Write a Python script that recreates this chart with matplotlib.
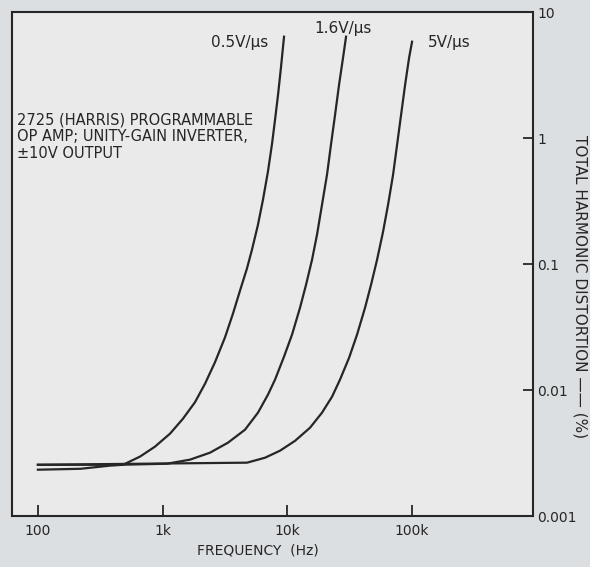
# THD vs frequency for the 2725 programmable op amp
import matplotlib
matplotlib.use('Agg')
from matplotlib import pyplot as plt
from matplotlib.ticker import FixedLocator, NullLocator

# curve data (frequency in Hz, THD in %)
freq_05 = [100, 220, 378, 481, 658, 867, 1145, 1455, 1816, 2184, 2626, 3162, 3664, 4169,
           4745, 5200, 5808, 6370, 6982, 7530, 7960, 8414, 8890, 9394]
thd_05 = [0.00233, 0.00237, 0.00251, 0.00255, 0.00296, 0.00355, 0.00450, 0.00592, 0.00800,
          0.0112, 0.0166, 0.0262, 0.0405, 0.0615, 0.0925, 0.130, 0.205, 0.324, 0.541, 0.902,
          1.40, 2.21, 3.68, 6.37]

freq_16 = [100, 455, 1083, 1656, 2395, 3340, 4571, 5808, 6982, 7960, 9394, 10890, 12620,
           14100, 15750, 17270, 18940, 20770, 22340, 24100, 25940, 27920, 29510]
thd_16 = [0.00255, 0.00255, 0.00260, 0.00280, 0.00318, 0.00382, 0.00484, 0.00661, 0.00918,
          0.0121, 0.0184, 0.0275, 0.0450, 0.0684, 0.108, 0.171, 0.296, 0.512, 0.885, 1.53,
          2.65, 4.34, 6.37]

freq_5 = [100, 4745, 6610, 8730, 11510, 15180, 18940, 22790, 26410, 31200, 36150, 41900,
          46800, 52300, 58400, 64100, 70300, 75700, 81500, 87800, 94500, 99800]
thd_5 = [0.00255, 0.00265, 0.00290, 0.00330, 0.00395, 0.00502, 0.00661, 0.00885, 0.0121,
         0.0180, 0.0275, 0.0450, 0.0684, 0.108, 0.180, 0.296, 0.512, 0.885, 1.53, 2.65,
         4.34, 5.81]

x_ticks = [100, 1000, 10000, 100000]
x_labels = ['100', '1k', '10k', '100k']
y_ticks = [0.001, 0.01, 0.1, 1, 10]
y_labels = ['0.001', '0.01', '0.1', '1', '10']

ink = '#262626'

fig = plt.figure(figsize=(5.9, 5.67), dpi=100, facecolor='#dcdfe2')
ax = fig.add_axes([12 / 590, 1 - 516 / 567, (533 - 12) / 590, (516 - 12) / 567])
ax.set_facecolor('#eaeaea')

for f, t in [(freq_05, thd_05), (freq_16, thd_16), (freq_5, thd_5)]:
    ax.plot(f, t, color=ink, lw=1.6)

ax.set_xscale('log')
ax.set_yscale('log')
ax.set_xlim(62, 9.3e5)
ax.set_ylim(0.001, 10)

ax.xaxis.set_major_locator(FixedLocator(x_ticks))
ax.set_xticklabels(x_labels)
ax.yaxis.set_major_locator(FixedLocator(y_ticks))
ax.set_yticklabels(y_labels)
ax.xaxis.set_minor_locator(NullLocator())
ax.yaxis.set_minor_locator(NullLocator())
ax.yaxis.tick_right()
ax.tick_params(axis='x', direction='in', length=8, width=1.3, color=ink, labelsize=10,
               labelcolor=ink, pad=6)
ax.tick_params(axis='y', direction='in', length=7, width=1.3, color=ink, labelsize=10,
               labelcolor=ink, pad=3)
for s in ax.spines.values():
    s.set_color(ink)
    s.set_linewidth(1.5)

# curve labels
ax.text(6980, 5.7, '0.5V/μs', ha='right', va='center', fontsize=11, color=ink)
ax.text(27900, 7.4, '1.6V/μs', ha='center', va='center', fontsize=11, color=ink)
ax.text(134000, 5.7, '5V/μs', ha='left', va='center', fontsize=11, color=ink)

ax.text(68, 1.6, '2725 (HARRIS) PROGRAMMABLE\nOP AMP; UNITY-GAIN INVERTER,\n±10V OUTPUT',
        ha='left', va='top', fontsize=10.5, color=ink, linespacing=1.15)

fig.text(258 / 590, 1 - 550 / 567, 'FREQUENCY  (Hz)', ha='center', va='center',
         fontsize=10, color=ink)
fig.text(580 / 590, 1 - 287 / 567, 'TOTAL HARMONIC DISTORTION —— (%)', ha='center',
         va='center', rotation=270, fontsize=11, color=ink)

fig.savefig('out.png', dpi=100, facecolor=fig.get_facecolor())
